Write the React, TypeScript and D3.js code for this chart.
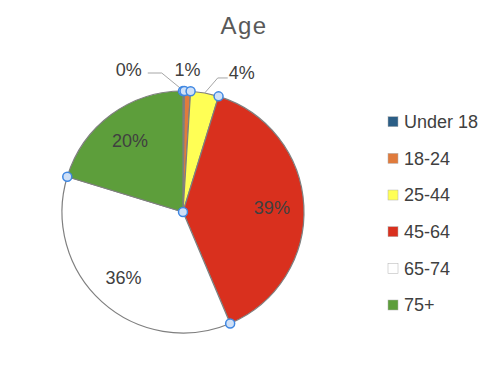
import * as d3 from "d3";

const categories = ["Under 18", "18-24", "25-44", "45-64", "65-74", "75+"];
const shares = [0.2, 0.8, 3.75, 38.9, 36.1, 20.3];
const pctLabels = ["0%", "1%", "4%", "39%", "36%", "20%"];
const colors = ["#2b5e86", "#e07b3c", "#ffff55", "#d9301e", "#ffffff", "#5d9e3b"];

// labels of the thin slices sit outside, offset from the arc midpoint
const outsideOffsets: Record<string, [number, number]> = {
  "Under 18": [-55, -21],
  "18-24": [0, -21],
  "25-44": [37, -20],
};

const W = 500;
const H = 369;
const cx = 183;
const cy = 212;
const R = 121;

export default function App() {
  const pie = d3
    .pie<number>()
    .sort(null)
    .value((d) => d);
  const arcs = pie(shares);
  const arc = d3.arc<d3.PieArcDatum<number>>().innerRadius(0).outerRadius(R);
  const labelArc = d3
    .arc<d3.PieArcDatum<number>>()
    .innerRadius(89)
    .outerRadius(89);

  const legendY = d3
    .scalePoint<string>()
    .domain(categories)
    .range([121.7, 305]);

  return (
    <svg
      width={W}
      height={H}
      style={{ position: "absolute", left: 0, top: 0, background: "#fff" }}
      fontFamily="'Liberation Sans', Arial, sans-serif"
    >
      <text
        x={244}
        y={34}
        textAnchor="middle"
        fontSize={24}
        letterSpacing={1.5}
        fill="#595959"
      >
        Age
      </text>

      <g transform={`translate(${cx},${cy})`}>
        {arcs.map((a, i) => (
          <path
            key={categories[i]}
            d={arc(a) ?? ""}
            fill={colors[i]}
            stroke="#7f7f7f"
            strokeWidth={1.2}
          />
        ))}

        {arcs.map((a, i) => {
          const cat = categories[i];
          const off = outsideOffsets[cat];
          if (off) {
            const mid = (a.startAngle + a.endAngle) / 2;
            const [px, py] = d3.pointRadial(mid, R);
            const lx = px + off[0];
            const ly = py + off[1];
            let leader: string | null = null;
            if (off[0] < -10) {
              leader = `M${px},${py}L${px - 22},${ly + 3}L${lx + 19},${ly + 3}`;
            } else if (off[0] > 10) {
              leader = `M${px},${py}L${px + 13},${ly + 5}L${lx - 14},${ly + 5}`;
            }
            return (
              <g key={cat}>
                {leader && (
                  <path d={leader} fill="none" stroke="#a6a6a6" strokeWidth={1} />
                )}
                <text
                  x={lx}
                  y={ly}
                  dy="0.35em"
                  textAnchor="middle"
                  fontSize={18}
                  fill="#404040"
                >
                  {pctLabels[i]}
                </text>
              </g>
            );
          }
          const [tx, ty] = labelArc.centroid(a);
          return (
            <text
              key={cat}
              x={tx}
              y={ty}
              dy="0.35em"
              textAnchor="middle"
              fontSize={18}
              fill="#404040"
            >
              {pctLabels[i]}
            </text>
          );
        })}

        {/* selection handles at each slice boundary and the centre */}
        {arcs.map((a, i) => {
          const [hx, hy] = d3.pointRadial(a.startAngle, R);
          return (
            <circle
              key={i}
              cx={hx}
              cy={hy}
              r={4.5}
              fill="#cfe0f7"
              stroke="#3f87e2"
              strokeWidth={1.5}
            />
          );
        })}
        <circle cx={0} cy={0} r={4.5} fill="#cfe0f7" stroke="#3f87e2" strokeWidth={1.5} />
      </g>

      <g>
        {categories.map((c, i) => (
          <g key={c} transform={`translate(388,${legendY(c)})`}>
            <rect
              x={0}
              y={-5}
              width={10}
              height={10}
              fill={colors[i]}
              stroke="#b0b0b0"
              strokeWidth={0.5}
            />
            <text x={16} y={0} dy="0.35em" fontSize={18} fill="#404040">
              {c}
            </text>
          </g>
        ))}
      </g>
    </svg>
  );
}
